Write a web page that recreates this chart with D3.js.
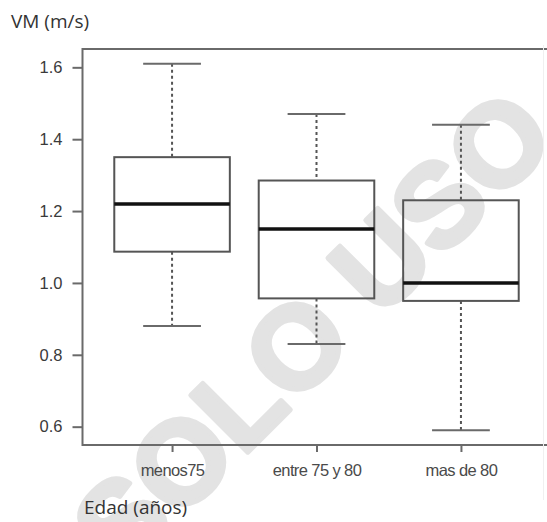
<!DOCTYPE html>
<html><head><meta charset="utf-8">
<script src="https://cdn.jsdelivr.net/npm/d3@7"></script>
<style>body{margin:0;background:#fff}svg{display:block}</style>
</head><body>
<script>
const categories = ["menos75", "entre 75 y 80", "mas de 80"];
const whiskerHigh = [1.61, 1.47, 1.44];
const q3 = [1.35, 1.285, 1.23];
const median = [1.22, 1.15, 1.00];
const q1 = [1.087, 0.957, 0.95];
const whiskerLow = [0.88, 0.83, 0.59];
const yTicks = [0.6, 0.8, 1.0, 1.2, 1.4, 1.6];
const yTitle = "VM (m/s)";
const xTitle = "Edad (años)";
const watermark = "SOLO USO";

const W = 547, H = 522;
const svg = d3.select("body").append("svg").attr("width", W).attr("height", H);

const pLeft = 82.5, pRight = 550.5, pTop = 49, pBottom = 445;
const x = d3.scaleLinear().domain([0.38, 3.62]).range([pLeft, pRight]);
const y = d3.scaleLinear().domain([0.549, 1.651]).range([pBottom, pTop]);

// watermark
svg.append("text")
  .attr("transform", "translate(341,359) rotate(-45)")
  .attr("text-anchor", "middle")
  .attr("font-family", "Liberation Sans, Arial, sans-serif")
  .attr("font-weight", "bold")
  .attr("font-size", 117)
  .attr("fill", "#e3e3e3")
  .attr("stroke", "#e3e3e3")
  .attr("stroke-width", 5)
  .attr("stroke-linejoin", "round")
  .text(watermark);

// frame
svg.append("rect").attr("x", pLeft).attr("y", pTop)
  .attr("width", pRight - pLeft).attr("height", pBottom - pTop)
  .attr("fill", "none").attr("stroke", "#6a6a6a").attr("stroke-width", 2);

// y axis
const yAxis = d3.axisLeft(y).tickValues(yTicks).tickFormat(d3.format(".1f"))
  .tickSize(10).tickPadding(10);
const ga = svg.append("g").attr("transform", `translate(${pLeft},0)`).call(yAxis);
ga.select(".domain").remove();
ga.selectAll("line").attr("stroke", "#6a6a6a").attr("stroke-width", 2);
ga.selectAll("text").attr("font-family", "Liberation Sans, Arial, sans-serif")
  .attr("font-size", 16.5).attr("fill", "#3a3a3a");

// x axis
const xAxis = d3.axisBottom(x).tickValues([1, 2, 3])
  .tickFormat((d, i) => categories[i]).tickSize(7).tickPadding(12);
const gx = svg.append("g").attr("transform", `translate(0,${pBottom})`).call(xAxis);
gx.select(".domain").remove();
gx.selectAll("line").attr("stroke", "#6a6a6a").attr("stroke-width", 2);
gx.selectAll("text").attr("font-family", "Liberation Sans, Arial, sans-serif")
  .attr("font-size", 16.5).attr("letter-spacing", -0.6).attr("fill", "#4a4a4a");

// boxes
const data = categories.map((c, i) => ({
  i: i + 1, hi: whiskerHigh[i], q3: q3[i], med: median[i], q1: q1[i], lo: whiskerLow[i]
}));
const g = svg.append("g");
const stroke = "#555";
data.forEach(d => {
  g.append("line").attr("x1", x(d.i)).attr("x2", x(d.i)).attr("y1", y(d.hi)).attr("y2", y(d.q3))
    .attr("stroke", stroke).attr("stroke-width", 2).attr("stroke-dasharray", "3,3");
  g.append("line").attr("x1", x(d.i)).attr("x2", x(d.i)).attr("y1", y(d.q1)).attr("y2", y(d.lo))
    .attr("stroke", stroke).attr("stroke-width", 2).attr("stroke-dasharray", "3,3");
  [d.hi, d.lo].forEach(v => {
    g.append("line").attr("x1", x(d.i - 0.2)).attr("x2", x(d.i + 0.2)).attr("y1", y(v)).attr("y2", y(v))
      .attr("stroke", "#6a6a6a").attr("stroke-width", 2);
  });
  g.append("rect").attr("x", x(d.i - 0.4)).attr("y", y(d.q3))
    .attr("width", x(d.i + 0.4) - x(d.i - 0.4)).attr("height", y(d.q1) - y(d.q3))
    .attr("fill", "none").attr("stroke", stroke).attr("stroke-width", 2);
  g.append("line").attr("x1", x(d.i - 0.4)).attr("x2", x(d.i + 0.4)).attr("y1", y(d.med)).attr("y2", y(d.med))
    .attr("stroke", "#111").attr("stroke-width", 3.5);
});

// faint right border
svg.append("line").attr("x1", 543.5).attr("x2", 543.5).attr("y1", 45).attr("y2", 500)
  .attr("stroke", "#f0f0f0").attr("stroke-width", 1);

// titles
svg.append("text").attr("x", 11).attr("y", 28)
  .attr("font-family", "Open Sans, sans-serif").attr("font-size", 19)
  .attr("fill", "#333").text(yTitle);
svg.append("text").attr("x", 84).attr("y", 514)
  .attr("font-family", "Open Sans, sans-serif").attr("font-size", 19)
  .attr("fill", "#333").text(xTitle);
</script>
</body></html>
